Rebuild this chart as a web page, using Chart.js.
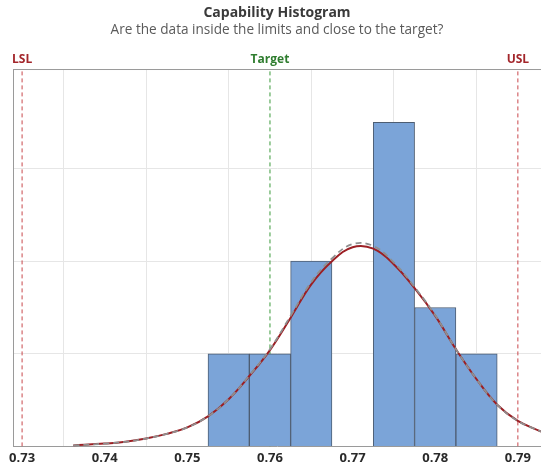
<!DOCTYPE html>
<html>
<head>
<meta charset="utf-8">
<title>Capability Histogram</title>
<script src="https://cdn.jsdelivr.net/npm/chart.js@4.4.1/dist/chart.umd.min.js"></script>
<style>
  html, body { margin: 0; padding: 0; background: #fff; overflow: hidden; }
  #wrap { width: 541px; height: 473px; }
</style>
</head>
<body>
<div id="wrap"><canvas id="cap-chart" width="541" height="473"></canvas></div>
<script>
// Histogram bins (bin width 0.005) and counts
const binCenters = [0.755, 0.760, 0.765, 0.770, 0.775, 0.780, 0.785];
const binCounts = [2, 2, 4, 0, 7, 3, 2];

// Fitted curves (same units as counts)
const curveX = [0.7362, 0.7400, 0.7425, 0.7450, 0.7475, 0.7500, 0.7525, 0.7550,
  0.7575, 0.7600, 0.7625, 0.7650, 0.7675, 0.7700, 0.7725, 0.7750, 0.7775,
  0.7800, 0.7825, 0.7850, 0.7875, 0.7900, 0.7928];
const overallFit = [0.02, 0.06, 0.10, 0.17, 0.27, 0.41, 0.65, 1.02,
  1.52, 2.08, 2.78, 3.50, 4.00, 4.30, 4.27, 3.93, 3.42,
  2.82, 2.10, 1.45, 0.90, 0.55, 0.32];
const withinFit = [0.02, 0.06, 0.10, 0.17, 0.27, 0.41, 0.65, 1.02,
  1.53, 2.10, 2.82, 3.55, 4.06, 4.37, 4.33, 3.97, 3.44,
  2.83, 2.10, 1.45, 0.90, 0.55, 0.32];

// Specification limits
const specNames = ["LSL", "Target", "USL"];
const specValues = [0.73, 0.76, 0.79];
const specColors = ["#c9474b", "#3a9a3a", "#c9474b"];
const specTextColors = ["#a3262b", "#2f7d2f", "#a3262b"];

const xTicks = [0.73, 0.74, 0.75, 0.76, 0.77, 0.78, 0.79];

const yTop = 8.15;
const fontFamily = "'Open Sans', 'Noto Sans', sans-serif";

const specDatasets = specValues.map((v, i) => ({
  type: "line",
  label: specNames[i],
  data: [{ x: v, y: 0 }, { x: v, y: yTop }],
  borderColor: specColors[i],
  borderWidth: 1,
  borderDash: [4, 3],
  pointRadius: 0,
  order: 6,
}));

// Top border of the plot and the spec labels above it
const framePlugin = {
  id: "frame",
  afterDraw(chart) {
    const { ctx, chartArea, scales } = chart;
    ctx.save();
    ctx.strokeStyle = "#9a9a9a";
    ctx.lineWidth = 1;
    ctx.beginPath();
    ctx.moveTo(chartArea.left, chartArea.top + 0.5);
    ctx.lineTo(chartArea.right, chartArea.top + 0.5);
    ctx.stroke();

    ctx.font = "bold 12px " + fontFamily;
    ctx.textAlign = "center";
    ctx.textBaseline = "middle";
    specValues.forEach((v, i) => {
      ctx.fillStyle = specTextColors[i];
      ctx.fillText(specNames[i], scales.x.getPixelForValue(v), chartArea.top - 9);
    });
    ctx.restore();
  },
};

const ctx = document.getElementById("cap-chart").getContext("2d");

new Chart(ctx, {
  type: "bar",
  data: {
    datasets: [
      {
        type: "line",
        label: "Within",
        data: curveX.map((x, i) => ({ x: x, y: withinFit[i] })),
        borderColor: "#8f8f8f",
        borderWidth: 1.8,
        borderDash: [6, 4],
        pointRadius: 0,
        tension: 0.4,
        order: 1,
      },
      {
        type: "line",
        label: "Overall",
        data: curveX.map((x, i) => ({ x: x, y: overallFit[i] })),
        borderColor: "#9c1f24",
        borderWidth: 2,
        pointRadius: 0,
        tension: 0.4,
        order: 2,
      },
      {
        label: "Counts",
        data: binCenters.map((x, i) => ({ x: x, y: binCounts[i] })),
        backgroundColor: "#7ba4d8",
        borderColor: "#4d5d72",
        borderWidth: 1,
        barPercentage: 1,
        categoryPercentage: 1,
        order: 5,
      },
      ...specDatasets,
    ],
  },
  options: {
    responsive: false,
    animation: false,
    layout: {
      padding: { left: 13, right: 0, top: 0, bottom: 3 },
    },
    plugins: {
      legend: { display: false },
      tooltip: { enabled: false },
      title: {
        display: true,
        text: "Capability Histogram",
        color: "#3a3a3a",
        font: { family: fontFamily, size: 14, weight: "bold" },
        padding: { top: 5, bottom: 0 },
      },
      subtitle: {
        display: true,
        text: "Are the data inside the limits and close to the target?",
        color: "#5a5a5a",
        font: { family: fontFamily, size: 13.6 },
        padding: { top: 0, bottom: 30.9 },
      },
    },
    scales: {
      x: {
        type: "linear",
        min: 0.7289,
        max: 0.7928,
        offset: false,
        afterBuildTicks: (scale) => {
          scale.ticks = xTicks.map((v) => ({ value: v }));
        },
        grid: {
          color: "#e6e6e6",
          drawTicks: false,
        },
        border: { color: "#9a9a9a" },
        ticks: {
          padding: 4,
          color: "#2a2a2a",
          autoSkip: false,
          maxRotation: 0,
          font: { family: fontFamily, size: 13, weight: "bold" },
          callback: (value) => Number(value).toFixed(2),
        },
      },
      y: {
        min: 0,
        max: yTop,
        ticks: { display: false, stepSize: 2 },
        grid: {
          color: "#e6e6e6",
          drawTicks: false,
        },
        border: { color: "#9a9a9a" },
      },
    },
  },
  plugins: [framePlugin],
});
</script>
</body>
</html>
